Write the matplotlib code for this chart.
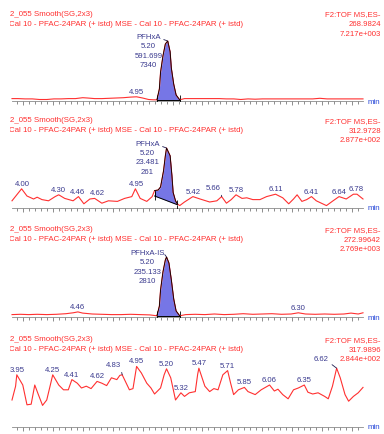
import numpy as np
import matplotlib
matplotlib.use("Agg")
from matplotlib import pyplot as plt
from matplotlib.ticker import MultipleLocator

plt.rcParams['font.family'] = ['Liberation Sans', 'DejaVu Sans']

# --- podatki (casi v min, intenziteta v % najvisjega vrha) ---
t1 = [3.91, 3.96, 4.02, 4.08, 4.14, 4.20, 4.26, 4.32, 4.38, 4.44, 4.50, 4.54, 4.60, 4.66, 4.72,
      4.78, 4.84, 4.90, 4.95, 5.00, 5.05, 5.09, 5.12, 5.14, 5.15, 5.17, 5.19, 5.21, 5.23, 5.24,
      5.26, 5.28, 5.31, 5.35, 5.40, 5.46, 5.52, 5.58, 5.64, 5.70, 5.76, 5.82, 5.88, 5.94, 6.00,
      6.06, 6.12, 6.18, 6.24, 6.30, 6.36, 6.42, 6.48, 6.54, 6.60, 6.66, 6.72, 6.78, 6.84]
p1 = [4, 4, 3.5, 3.5, 2.5, 2.5, 3.5, 3.5, 4, 4, 5.5, 5, 4, 4, 4.5,
      5, 5.5, 6.5, 7, 5, 2.5, 2, 2, 20, 48, 75, 95, 100, 82, 55,
      28, 10, 2, 4, 4, 4, 4, 4, 4, 3.5, 3.5, 2.5, 3.5, 3, 3.5,
      3.5, 3.5, 3.5, 3.5, 3.5, 3.5, 3.5, 4.5, 3.5, 3.5, 3.5, 3.5, 3.5, 3.5]

t2 = [3.91, 3.99, 4.035, 4.09, 4.12, 4.16, 4.215, 4.27, 4.30, 4.35, 4.42, 4.465, 4.51, 4.56,
      4.60, 4.66, 4.715, 4.79, 4.85, 4.91, 4.94, 4.98, 5.035, 5.08, 5.10, 5.13, 5.15, 5.175,
      5.19, 5.20, 5.23, 5.245, 5.255, 5.275, 5.29, 5.31, 5.35, 5.42, 5.48, 5.56, 5.62, 5.66,
      5.70, 5.74, 5.78, 5.83, 5.87, 5.92, 5.98, 6.035, 6.11, 6.17, 6.22, 6.26, 6.29, 6.33,
      6.37, 6.41, 6.45, 6.535, 6.59, 6.64, 6.70, 6.76, 6.79, 6.84]
p2 = [12, 32, 20, 15, 18, 14, 12, 19, 22, 16, 12, 19, 7, 15,
      16, 8, 12, 11, 16, 19, 32, 16, 11, 19, 29, 30, 35, 62,
      87, 100, 87, 54, 26, 12, 7, 4, 10, 19, 15, 10, 12, 19,
      8, 14, 22, 16, 17, 14, 14, 19, 23, 17, 7, 15, 22, 11,
      14, 19, 12, 4, 12, 19, 15, 23, 23, 15]

t3 = [3.91, 3.98, 4.05, 4.12, 4.20, 4.28, 4.36, 4.42, 4.46, 4.50, 4.58, 4.66, 4.74, 4.82,
      4.90, 4.98, 5.06, 5.12, 5.14, 5.15, 5.17, 5.19, 5.20, 5.22, 5.24, 5.26, 5.28, 5.31,
      5.36, 5.44, 5.52, 5.60, 5.68, 5.76, 5.84, 5.92, 6.00, 6.08, 6.16, 6.24, 6.30, 6.36,
      6.44, 6.52, 6.60, 6.68, 6.74, 6.80, 6.84]
p3 = [4, 4.5, 4, 4.5, 4, 4.5, 5.5, 7, 8.5, 6.5, 5, 4.5, 4, 4,
      4.5, 4, 3.5, 2, 18, 45, 75, 95, 100, 90, 62, 30, 10, 2,
      4, 4.5, 4, 5, 4, 4.5, 5.5, 4.5, 5, 5.5, 4.5, 5, 7, 5,
      4.5, 5, 4.5, 5, 6.5, 5, 7]

t4 = [3.91, 3.94, 3.95, 4.00, 4.035, 4.07, 4.10, 4.13, 4.165, 4.20, 4.23, 4.25, 4.30, 4.34,
      4.38, 4.41, 4.455, 4.49, 4.53, 4.57, 4.62, 4.66, 4.70, 4.74, 4.785, 4.81, 4.83, 4.89,
      4.92, 4.95, 4.99, 5.035, 5.07, 5.10, 5.15, 5.18, 5.20, 5.235, 5.275, 5.32, 5.35, 5.39,
      5.44, 5.46, 5.47, 5.52, 5.56, 5.595, 5.63, 5.67, 5.71, 5.735, 5.76, 5.80, 5.85, 5.88,
      5.94, 5.99, 6.06, 6.10, 6.13, 6.17, 6.215, 6.26, 6.30, 6.35, 6.38, 6.42, 6.465, 6.52,
      6.55, 6.585, 6.62, 6.65, 6.69, 6.72, 6.76, 6.80, 6.84]
p4 = [45, 68, 87, 70, 37, 38, 70, 54, 36, 45, 70, 87, 70, 62,
      62, 79, 73, 65, 68, 64, 76, 73, 69, 82, 79, 86, 87, 62,
      64, 101, 90, 73, 65, 55, 65, 87, 97, 82, 45, 57, 51, 57,
      59, 88, 98, 68, 59, 64, 62, 87, 94, 73, 54, 62, 66, 59,
      54, 62, 70, 60, 63, 54, 47, 62, 65, 70, 58, 55, 57, 51,
      47, 68, 98, 82, 54, 43, 51, 57, 66]

sledi = [(t1, p1), (t2, p2), (t3, p3), (t4, p4)]

oznake = [["4.95"],
          ["4.00", "4.30", "4.46", "4.62", "4.95", "5.42", "5.66", "5.78", "6.11", "6.41", "6.64", "6.78"],
          ["4.46", "6.30"],
          ["3.95", "4.25", "4.41", "4.62", "4.83", "4.95", "5.20", "5.32", "5.47", "5.71", "5.85",
           "6.06", "6.35", "6.62"]]

spojine = ["PFHxA", "PFHxA", "PFHxA-IS", None]
vrh_info = [["5.20", "591.699", "7340"], ["5.20", "23.481", "261"], ["5.20", "235.133", "2810"], None]
# meje integracije: (zacetek, visina, konec, visina)
meje = [(5.12, 2, 5.31, 2), (5.10, 20, 5.29, 5.5), (5.12, 2, 5.31, 2), None]

mase = ["268.9824", "312.9728", "272.99642", "317.9896"]
intenzitete = ["7.217e+003", "2.877e+002", "2.769e+003", "2.844e+002"]

glava1 = "2_055 Smooth(SG,2x3)"
glava2 = "Cal 10 - PFAC-24PAR (+ istd) MSE - Cal 10 - PFAC-24PAR (+ istd)"
funkcija = "F2:TOF MS,ES-"
xticks = np.arange(4.0, 6.76, 0.25)

# posebni odmiki oznak s crto (v px)
odmiki = {(1, "5.66"): (-8, 9), (3, "4.83"): (-9, 10), (3, "6.62"): (-16, 10)}

W, H = 384, 435
fig = plt.figure(figsize=(W / 100, H / 100), dpi=100)

rdeca = "#ff3030"
modra = "#3b3b8f"
os_y = [102, 209, 318, 428]

ovoj = fig.add_axes([10 / W, 0, 1 - 10 / W, 1])
ovoj.set_axis_off()
ovoj.set_xlim(10, W)
ovoj.set_ylim(H, 0)

pt = 0.72  # px -> pt

for i in range(4):
    ax = fig.add_axes([12 / W, (H - os_y[i]) / H, (363 - 12) / W, 60 / H])
    t, p = sledi[i]
    t = np.array(t)
    p = np.array(p)
    ax.plot(t, p, color=rdeca, lw=0.8, clip_on=False, zorder=3)
    ax.set_xlim(3.91, 6.84)
    ax.set_ylim(0, 100)
    for s in ["top", "left", "right"]:
        ax.spines[s].set_visible(False)
    ax.spines["bottom"].set_color("#8a8a8a")
    ax.spines["bottom"].set_linewidth(0.6)
    ax.set_yticks([])
    ax.xaxis.set_major_locator(MultipleLocator(0.25))
    ax.xaxis.set_minor_locator(MultipleLocator(0.05))
    ax.tick_params(axis="x", which="major", length=3.2, width=0.6, color="#7a7a7a",
                   labelsize=5.6, labelcolor="#2848d8", pad=0.8)
    ax.tick_params(axis="x", which="minor", length=2.2, width=0.6, color="#7a7a7a")
    if i == 3:
        ax.set_xticks(xticks)
        ax.set_xticklabels(["%.2f" % x for x in xticks])
    else:
        ax.set_xticklabels([])
    ax.patch.set_visible(False)

    ax.text(1.014, 0.0, "min", transform=ax.transAxes, ha="left", va="center",
            fontsize=5.8, color="#2848d8")

    # vrh
    if meje[i] is not None:
        a, ya, b, yb = meje[i]
        m = (t >= a) & (t <= b)
        tt = t[m]
        osnova = ya + (yb - ya) * (tt - a) / (b - a)
        ax.fill_between(tt, osnova, p[m], color="#7676e6", zorder=2, lw=0)
        ax.plot(tt, p[m], color="black", lw=0.6, zorder=4)
        ax.plot([a, b], [ya, yb], color="black", lw=0.7, zorder=4)
        ax.plot([a, a], [ya, p[m][0]], color="black", lw=0.6, zorder=4)
        ax.plot([a, a, b, b], [ya - 4, ya + 4, yb - 4, yb + 4], color="black", lw=0.6,
                ls="none", marker="|", ms=3, mew=0.6, zorder=4)
        top = np.argmax(p)
        ax.annotate(spojine[i], xy=(t[top], p[top]), xytext=(-19 * pt, 4.5 * pt),
                    textcoords="offset points", ha="center", va="center", fontsize=5.6,
                    color=modra, annotation_clip=False,
                    arrowprops=dict(arrowstyle="-", color="#1c1c50", lw=0.6,
                                    shrinkA=0, shrinkB=0, relpos=(1, 0.2)))
        for k, vrst in enumerate(vrh_info[i]):
            ax.annotate(vrst, xy=(t[top], p[top]), xytext=(-19 * pt, (-4.5 - 9.5 * k) * pt),
                        textcoords="offset points", ha="center", va="center", fontsize=5.6,
                        color=modra, annotation_clip=False)

    # oznake casov
    for lab in oznake[i]:
        tc = float(lab)
        okno = (t > tc - 0.025) & (t < tc + 0.025)
        h = p[okno].max() if okno.any() else np.interp(tc, t, p)
        if (i, lab) in odmiki:
            dx, dy = odmiki[(i, lab)]
            ax.annotate(lab, xy=(tc, h), xytext=(dx * pt, dy * pt), textcoords="offset points",
                        ha="center", va="center", fontsize=5.6, color=modra, annotation_clip=False,
                        arrowprops=dict(arrowstyle="-", color="#1c1c50", lw=0.6,
                                        shrinkA=1, shrinkB=0, relpos=(1, 0)))
        else:
            ax.annotate(lab, xy=(tc, h), xytext=(0, 1.5), textcoords="offset points",
                        ha="center", va="bottom", fontsize=5.6, color=modra,
                        annotation_clip=False)

    # glava
    y0 = os_y[i] - 88
    for y, s in [(y0, glava1), (y0 + 10, glava2)]:
        tx = ovoj.text(10 if s == glava1 else 8.6, y, s, ha="left", va="center",
                       fontsize=5.7, color=rdeca, clip_on=True)
        tx.set_clip_path(ovoj.patch)
    for k, s in enumerate([funkcija, mase[i], intenzitete[i]]):
        ovoj.text(381, y0 + 1 + 9.5 * k, s, ha="right", va="center", fontsize=5.6, color=rdeca)

fig.savefig("out.png", dpi=100)
